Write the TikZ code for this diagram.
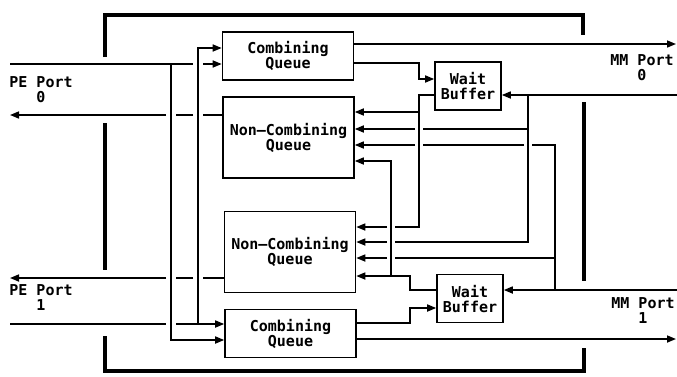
\documentclass[tikz,border=0pt]{standalone}
\usepackage{fontspec}
\setmonofont{DejaVu Sans Mono}
\usetikzlibrary{arrows.meta, positioning}
\tikzset{
	queue/.style={draw, line width=1.6pt, minimum width=131pt, inner sep=0pt, align=center, font=\ttfamily\bfseries\fontsize{15}{15}\selectfont},
	comb/.style={queue, minimum height=48pt},
	noncomb/.style={queue, minimum height=81pt},
	waitbuf/.style={queue, minimum width=66pt, minimum height=48pt},
	port/.style={inner sep=0pt, align=center, font=\ttfamily\bfseries\fontsize{15}{15}\selectfont},
	wire/.style={line width=1.6pt},
	feed/.style={wire, -{Triangle[length=9pt,width=7pt]}},
	wall/.style={line width=4.5pt}
}

\begin{document}
\begin{tikzpicture}[x=1pt, y=-1pt]
	\useasboundingbox (0,0) rectangle (677,376);
	
	% --- Queues and buffers ---
	\node[comb] (comb0) at (288,56) {Combining\\Queue};
	\node[noncomb] (noncomb0) at (288.5,137.5) {Non—Combining\\Queue};
	\node[noncomb] (noncomb1) at (290,252) {Non—Combining\\Queue};
	\node[comb] (comb1) at (290.5,333.5) {Combining\\Queue};
	\node[waitbuf] (wait0) at (468,86) {Wait\\Buffer};
	\node[waitbuf] (wait1) at (470,298.5) {Wait\\Buffer};
	
	% --- Port labels ---
	\node[port] (pe0) at (41,90) {PE Port\\0};
	\node[port] (pe1) at (41,298) {PE Port\\1};
	\node[port] (mm0) at (642,68) {MM Port\\0};
	\node[port] (mm1) at (643,311) {MM Port\\1};
	
	% --- Switch frame ---
	\draw[wall] (105,57) |- (583,15) -- (583,35);
	\draw[wall] (105,123) -- (105,270);
	\draw[wall] (584,102) -- (584,281);
	\draw[wall] (105,336) |- (584,371) -- (584,348);
	
	% Port ends and buses
	\coordinate (pe0in) at (10,64);
	\coordinate (pe0out) at (10,115);
	\coordinate (pe1out) at (10,278);
	\coordinate (pe1in) at (10,324);
	\coordinate (mm0out) at (676,44);
	\coordinate (mm0in) at (677,95);
	\coordinate (mm1in) at (677,290);
	\coordinate (mm1out) at (676,339);
	\coordinate (busA) at (171,0);
	\coordinate (busB) at (198,0);
	\coordinate (busC) at (391,0);
	\coordinate (busD) at (419,0);
	\coordinate (busE) at (528,0);
	\coordinate (busF) at (555,0);
	
	% --- PE side ---
	\draw[wire] (pe0in) -- ([xshift=-5pt]busB |- pe0in);
	\draw[feed] ([xshift=5pt]busB |- pe0in) -- (comb0.west |- pe0in);
	\draw[feed] (busA |- pe0in) |- (comb1.west |- 0,340);
	\draw[wire] (pe1in) -- ([xshift=-5pt]busA |- pe1in);
	\draw[feed] ([xshift=5pt]busA |- pe1in) -- (comb1.west |- pe1in);
	\draw[feed] (busB |- pe1in) |- (comb0.west |- 0,48);
	
	\foreach \q/\y in {noncomb0/pe0out, noncomb1/pe1out} {
		\draw[wire] (\q.west |- \y) -- ([xshift=5pt]busB |- \y);
		\draw[wire] ([xshift=-5pt]busB |- \y) -- ([xshift=5pt]busA |- \y);
		\draw[feed] ([xshift=-5pt]busA |- \y) -- (\y);
	}
	
	% --- MM side ---
	\draw[feed] (comb0.east |- mm0out) -- (mm0out);
	\draw[feed] (comb0.east |- 0,63) -| (busD |- 0,79) -- (wait0.west |- 0,79);
	\draw[feed] (mm0in) -- (wait0.east |- mm0in);
	\draw[feed] (comb1.east |- mm1out) -- (mm1out);
	\draw[feed] (comb1.east |- 0,323) -| (410,308) -- (wait1.west |- 0,308);
	\draw[feed] (mm1in) -- (wait1.east |- mm1in);
	
	% Returns into the non-combining queues
	\draw[wire] (wait0.west |- mm0in) -| (busD |- 0,227) -- ([xshift=4pt]busC |- 0,227);
	\draw[feed] (busD |- 0,112) -- (noncomb0.east |- 0,112);
	\draw[wire] (busE |- mm0in) -- (busE |- 0,242) -- ([xshift=4pt]busC |- 0,242);
	\draw[wire] (busE |- 0,129) -- ([xshift=4pt]busD |- 0,129);
	\draw[feed] ([xshift=-4pt]busD |- 0,129) -- (noncomb0.east |- 0,129);
	\draw[wire] (busF |- mm1in) -- (busF |- 0,145) -- ([xshift=4pt]busE |- 0,145);
	\draw[wire] ([xshift=-4pt]busE |- 0,145) -- ([xshift=4pt]busD |- 0,145);
	\draw[feed] ([xshift=-4pt]busD |- 0,145) -- (noncomb0.east |- 0,145);
	\draw[wire] (busF |- 0,258) -- ([xshift=4pt]busC |- 0,258);
	\foreach \y in {227,242,258}
		\draw[feed] ([xshift=-4pt]busC |- 0,\y) -- (noncomb1.east |- 0,\y);
	\draw[feed] (wait1.west |- mm1in) -| (410,276) -- (noncomb1.east |- 0,276);
	\draw[feed] (busC |- 0,276) -- (busC |- 0,161) -- (noncomb0.east |- 0,161);
\end{tikzpicture}
\end{document}
